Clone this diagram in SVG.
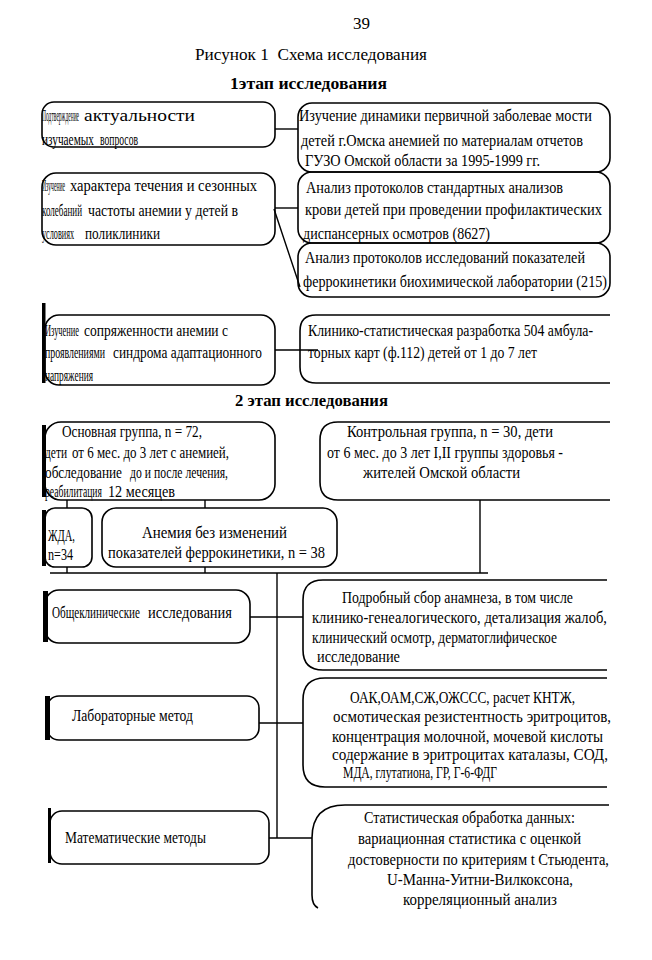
<svg xmlns="http://www.w3.org/2000/svg" width="652" height="960" viewBox="0 0 652 960">
<style>
.t{font-family:"Liberation Serif","Times New Roman",serif;font-size:16px;fill:#000}
.b{font-weight:bold}
.box{fill:none;stroke:#000;stroke-width:1.6}
.bar{fill:#000}
.ln{stroke:#000;stroke-width:1.4;fill:none}
</style>
<rect width="652" height="960" fill="#fff"/>
<g id="header">
<text class="t" x="353" y="29" textLength="17" lengthAdjust="spacingAndGlyphs">39</text>
<text class="t" x="195" y="60" font-size="17" textLength="232" lengthAdjust="spacingAndGlyphs" xml:space="preserve">Рисунок 1  Схема исследования</text>
<text class="t b" x="230" y="89" textLength="157" lengthAdjust="spacingAndGlyphs">1этап исследования</text>
<text class="t b" x="235" y="406" textLength="153" lengthAdjust="spacingAndGlyphs">2 этап исследования</text>
</g>
<g id="connectors">
<line class="ln" x1="275" y1="129" x2="298" y2="129"/>
<line class="ln" x1="275" y1="208" x2="298" y2="208"/>
<line class="ln" x1="274" y1="209" x2="300" y2="287"/>
<line class="ln" x1="275" y1="350" x2="318" y2="350"/>
<line class="ln" x1="67" y1="500" x2="67" y2="508"/>
<line class="ln" x1="67" y1="567" x2="67" y2="573"/>
<line class="ln" x1="205" y1="500" x2="205" y2="508"/>
<line class="ln" x1="205" y1="567" x2="205" y2="573"/>
<line class="ln" x1="480" y1="500" x2="480" y2="573"/>
<line class="ln" x1="50" y1="573" x2="488" y2="573"/>
<line class="ln" x1="277" y1="573" x2="277" y2="838"/>
<line class="ln" x1="250" y1="617" x2="303" y2="617"/>
<line class="ln" x1="259" y1="723" x2="303" y2="723"/>
<line class="ln" x1="269" y1="838" x2="312" y2="838"/>
</g>
<g id="n1L">
<rect class="box" x="42" y="102" width="233" height="45" rx="12"/>
<text class="t" transform="matrix(0.343 0 0 1 42 121)" textLength="108" lengthAdjust="spacingAndGlyphs">Подтверждение</text>
<text class="t" x="84" y="121" textLength="111" lengthAdjust="spacingAndGlyphs">актуальности</text>
<text class="t" transform="matrix(0.703 0 0 1 42 145)" textLength="74" lengthAdjust="spacingAndGlyphs">изучаемых</text>
<text class="t" x="100" y="145" textLength="38" lengthAdjust="spacingAndGlyphs">вопросов</text>
</g>
<g id="n1R">
<rect class="box" x="298" y="103" width="312" height="69" rx="14"/>
<text class="t" x="299" y="121" textLength="293" lengthAdjust="spacingAndGlyphs">Изучение динамики первичной заболевае мости</text>
<text class="t" x="301" y="146" textLength="282" lengthAdjust="spacingAndGlyphs">детей г.Омска анемией по материалам отчетов</text>
<text class="t" x="305" y="166" textLength="235" lengthAdjust="spacingAndGlyphs">ГУЗО Омской области за 1995-1999 гг.</text>
</g>
<g id="n2L">
<rect class="box" x="42" y="173" width="233" height="72" rx="14"/>
<text class="t" transform="matrix(0.354 0 0 1 42 191)" textLength="65" lengthAdjust="spacingAndGlyphs">Изучение</text>
<text class="t" x="70" y="191" textLength="187" lengthAdjust="spacingAndGlyphs">характера течения и сезонных</text>
<text class="t" transform="matrix(0.556 0 0 1 42 216)" textLength="72" lengthAdjust="spacingAndGlyphs">колебаний</text>
<text class="t" x="88" y="216" textLength="150" lengthAdjust="spacingAndGlyphs">частоты анемии у детей  в</text>
<text class="t" transform="matrix(0.508 0 0 1 42 239)" textLength="63" lengthAdjust="spacingAndGlyphs">условиях</text>
<text class="t" x="85" y="239" textLength="75" lengthAdjust="spacingAndGlyphs">поликлиники</text>
</g>
<g id="n2R">
<rect class="box" x="298" y="172" width="312" height="71" rx="14"/>
<text class="t" x="306" y="193" textLength="257" lengthAdjust="spacingAndGlyphs">Анализ протоколов стандартных  анализов</text>
<text class="t" x="305" y="215" textLength="297" lengthAdjust="spacingAndGlyphs">крови  детей  при проведении  профилактических</text>
<text class="t" x="303" y="239" textLength="187" lengthAdjust="spacingAndGlyphs">диспансерных осмотров (8627)</text>
</g>
<g id="n3R">
<rect class="box" x="298" y="243" width="312" height="54" rx="14"/>
<text class="t" x="305" y="263" textLength="280" lengthAdjust="spacingAndGlyphs">Анализ протоколов исследований показателей</text>
<text class="t" x="303" y="287" textLength="304" lengthAdjust="spacingAndGlyphs">феррокинетики биохимической лаборатории (215)</text>
</g>
<g id="n3L">
<rect class="box" x="45" y="315" width="230" height="70" rx="14"/>
<rect class="bar" x="42" y="303" width="3.5" height="80"/>
<text class="t" transform="matrix(0.523 0 0 1 45 336)" textLength="65" lengthAdjust="spacingAndGlyphs">Изучение</text>
<text class="t" x="84" y="336" textLength="144" lengthAdjust="spacingAndGlyphs">сопряженности анемии с</text>
<text class="t" transform="matrix(0.612 0 0 1 45 358)" textLength="98" lengthAdjust="spacingAndGlyphs">проявлениями</text>
<text class="t" x="113" y="358" textLength="149" lengthAdjust="spacingAndGlyphs">синдрома адаптационного</text>
<text class="t" x="45" y="381" textLength="48" lengthAdjust="spacingAndGlyphs">напряжения</text>
</g>
<g id="n4R">
<path class="box" d="M610 315 H316 Q300 315 300 331 V367 Q300 383 316 383 H610"/>
<text class="t" x="308" y="336" textLength="285" lengthAdjust="spacingAndGlyphs">Клинико-статистическая разработка 504 амбула-</text>
<text class="t" x="308" y="358" textLength="229" lengthAdjust="spacingAndGlyphs">торных карт (ф.112) детей от 1 до 7 лет</text>
</g>
<g id="main-group">
<rect class="box" x="45" y="422" width="230" height="78" rx="16"/>
<rect class="bar" x="42" y="425" width="4" height="72"/>
<text class="t" x="62" y="437" textLength="140" lengthAdjust="spacingAndGlyphs">Основная группа, n = 72,</text>
<text class="t" transform="matrix(0.71 0 0 1 45 458)" textLength="31" lengthAdjust="spacingAndGlyphs">дети</text>
<text class="t" x="72" y="458" textLength="157" lengthAdjust="spacingAndGlyphs">от 6 мес. до 3 лет с анемией,</text>
<text class="t" transform="matrix(0.828 0 0 1 45 478)" textLength="93" lengthAdjust="spacingAndGlyphs">обследование</text>
<text class="t" x="130" y="478" textLength="98" lengthAdjust="spacingAndGlyphs">до и после лечения,</text>
<text class="t" transform="matrix(0.606 0 0 1 45 497)" textLength="94" lengthAdjust="spacingAndGlyphs">реабилитация</text>
<text class="t" x="108" y="497" textLength="67" lengthAdjust="spacingAndGlyphs">12 месяцев</text>
</g>
<g id="control-group">
<path class="box" d="M610 422 H338 Q320 422 320 440 V482 Q320 500 338 500 H610"/>
<text class="t" x="347" y="437" textLength="206" lengthAdjust="spacingAndGlyphs">Контрольная группа, n = 30, дети</text>
<text class="t" x="327" y="458" textLength="236" lengthAdjust="spacingAndGlyphs">от 6 мес. до 3 лет I,II группы здоровья -</text>
<text class="t" x="363" y="478" textLength="157" lengthAdjust="spacingAndGlyphs">жителей Омской области</text>
</g>
<g id="zhda">
<rect class="box" x="45" y="508" width="47" height="59" rx="10"/>
<rect class="bar" x="42" y="510" width="4" height="56"/>
<text class="t" x="48" y="541" textLength="27" lengthAdjust="spacingAndGlyphs">ЖДА,</text>
<text class="t" x="48" y="560" textLength="25" lengthAdjust="spacingAndGlyphs">n=34</text>
</g>
<g id="anemia">
<rect class="box" x="102" y="508" width="235" height="59" rx="14"/>
<text class="t" x="142" y="538" textLength="145" lengthAdjust="spacingAndGlyphs">Анемия без изменений</text>
<text class="t" x="108" y="558" textLength="217" lengthAdjust="spacingAndGlyphs">показателей феррокинетики, n = 38</text>
</g>
<g id="general">
<rect class="box" x="45" y="590" width="205" height="53" rx="14"/>
<rect class="bar" x="43" y="591" width="5" height="51"/>
<text class="t" transform="matrix(0.698 0 0 1 52 618)" textLength="126" lengthAdjust="spacingAndGlyphs">Общеклинические</text>
<text class="t" x="148" y="618" textLength="84" lengthAdjust="spacingAndGlyphs">исследования</text>
</g>
<g id="general-detail">
<path class="box" d="M607 580 H323 Q303 580 303 600 V650 Q303 670 323 670 H607"/>
<text class="t" x="342" y="603" textLength="231" lengthAdjust="spacingAndGlyphs">Подробный сбор анамнеза, в том числе</text>
<text class="t" x="312" y="623" textLength="295" lengthAdjust="spacingAndGlyphs">клинико-генеалогического, детализация жалоб,</text>
<text class="t" x="312" y="643" textLength="245" lengthAdjust="spacingAndGlyphs">клинический осмотр, дерматоглифическое</text>
<text class="t" x="317" y="662" textLength="83" lengthAdjust="spacingAndGlyphs">исследование</text>
</g>
<g id="lab">
<rect class="box" x="47" y="696" width="212" height="44" rx="12"/>
<rect class="bar" x="45" y="696" width="5" height="44"/>
<text class="t" x="72" y="721" textLength="121" lengthAdjust="spacingAndGlyphs">Лабораторные метод</text>
</g>
<g id="lab-detail">
<path class="box" d="M607 678 H325 Q303 678 303 700 V765 Q303 787 325 787 H607"/>
<text class="t" x="350" y="703" textLength="225" lengthAdjust="spacingAndGlyphs">ОАК,ОАМ,СЖ,ОЖССС, расчет КНТЖ,</text>
<text class="t" x="333" y="722" textLength="278" lengthAdjust="spacingAndGlyphs">осмотическая резистентность эритроцитов,</text>
<text class="t" x="332" y="742" textLength="271" lengthAdjust="spacingAndGlyphs">концентрация молочной, мочевой кислоты</text>
<text class="t" x="332" y="760" textLength="276" lengthAdjust="spacingAndGlyphs">содержание в эритроцитах каталазы, СОД,</text>
<text class="t" x="343" y="778" textLength="154" lengthAdjust="spacingAndGlyphs">МДА, глутатиона, ГР, Г-6-ФДГ</text>
</g>
<g id="math">
<rect class="box" x="50" y="811" width="219" height="53" rx="12"/>
<rect class="bar" x="48" y="808" width="3" height="55"/>
<text class="t" x="65" y="843" textLength="141" lengthAdjust="spacingAndGlyphs">Математические методы</text>
</g>
<g id="math-detail">
<path class="box" d="M609 805 H345 Q312 805 312 838 V895 Q312 905 318 908"/>
<text class="t" x="364" y="823" textLength="211" lengthAdjust="spacingAndGlyphs">Статистическая обработка данных:</text>
<text class="t" x="358" y="844" textLength="223" lengthAdjust="spacingAndGlyphs">вариационная статистика с оценкой</text>
<text class="t" x="348" y="865" textLength="261" lengthAdjust="spacingAndGlyphs">достоверности по критериям t Стьюдента,</text>
<text class="t" x="387" y="885" textLength="186" lengthAdjust="spacingAndGlyphs">U-Манна-Уитни-Вилкоксона,</text>
<text class="t" x="403" y="905" textLength="154" lengthAdjust="spacingAndGlyphs">корреляционный анализ</text>
</g>
</svg>
